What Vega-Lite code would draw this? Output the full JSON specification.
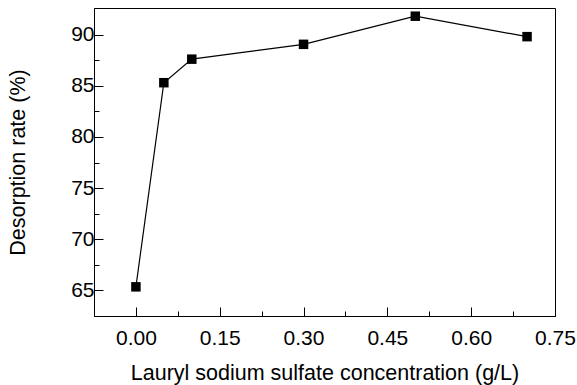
{
  "$schema": "https://vega.github.io/schema/vega-lite/v6.json",
  "autosize": "none",
  "width": 461,
  "height": 308,
  "padding": {"left": 94, "top": 8, "right": 22, "bottom": 69},
  "background": "white",
  "config": {
    "view": {"stroke": "black", "strokeWidth": 1},
    "font": "Liberation Sans",
    "axis": {
      "domainColor": "black",
      "tickColor": "black",
      "tickWidth": 1,
      "labelColor": "black",
      "titleColor": "black",
      "labelFont": "Liberation Sans",
      "titleFont": "Liberation Sans",
      "labelFontSize": 21,
      "titleFontSize": 21.5,
      "titleFontWeight": "normal",
      "grid": false
    }
  },
  "data": {
    "values": [
      {"c": 0.0, "rate": 65.35},
      {"c": 0.05, "rate": 85.3},
      {"c": 0.1, "rate": 87.6},
      {"c": 0.3, "rate": 89.05},
      {"c": 0.5, "rate": 91.8},
      {"c": 0.7, "rate": 89.8}
    ]
  },
  "encoding": {
    "x": {
      "field": "c",
      "type": "quantitative",
      "scale": {"domain": [-0.075, 0.75], "nice": false, "zero": false},
      "axis": {
        "title": "Lauryl sodium sulfate concentration (g/L)",
        "values": [0, 0.075, 0.15, 0.225, 0.3, 0.375, 0.45, 0.525, 0.6, 0.675, 0.75],
        "labelExpr": "round(datum.value*1000) % 150 == 0 ? format(datum.value, '.2f') : ''",
        "tickSize": {"condition": {"test": "round(datum.value*1000) % 150 == 0", "value": -9}, "value": -5},
        "labelPadding": 20,
        "titlePadding": 14,
        "labelFlush": false
      }
    },
    "y": {
      "field": "rate",
      "type": "quantitative",
      "scale": {"domain": [62.5, 92.6], "nice": false, "zero": false},
      "axis": {
        "title": "Desorption rate (%)",
        "values": [65, 67.5, 70, 72.5, 75, 77.5, 80, 82.5, 85, 87.5, 90],
        "labelExpr": "datum.value % 5 == 0 ? format(datum.value, 'd') : ''",
        "tickSize": {"condition": {"test": "datum.value % 5 == 0", "value": -9}, "value": -5},
        "labelPadding": 9,
        "titlePadding": 41,
        "labelFlush": false
      }
    }
  },
  "layer": [
    {"mark": {"type": "line", "color": "black", "strokeWidth": 1.2}},
    {"mark": {"type": "square", "color": "black", "opacity": 1, "filled": true, "size": 90}}
  ]
}
